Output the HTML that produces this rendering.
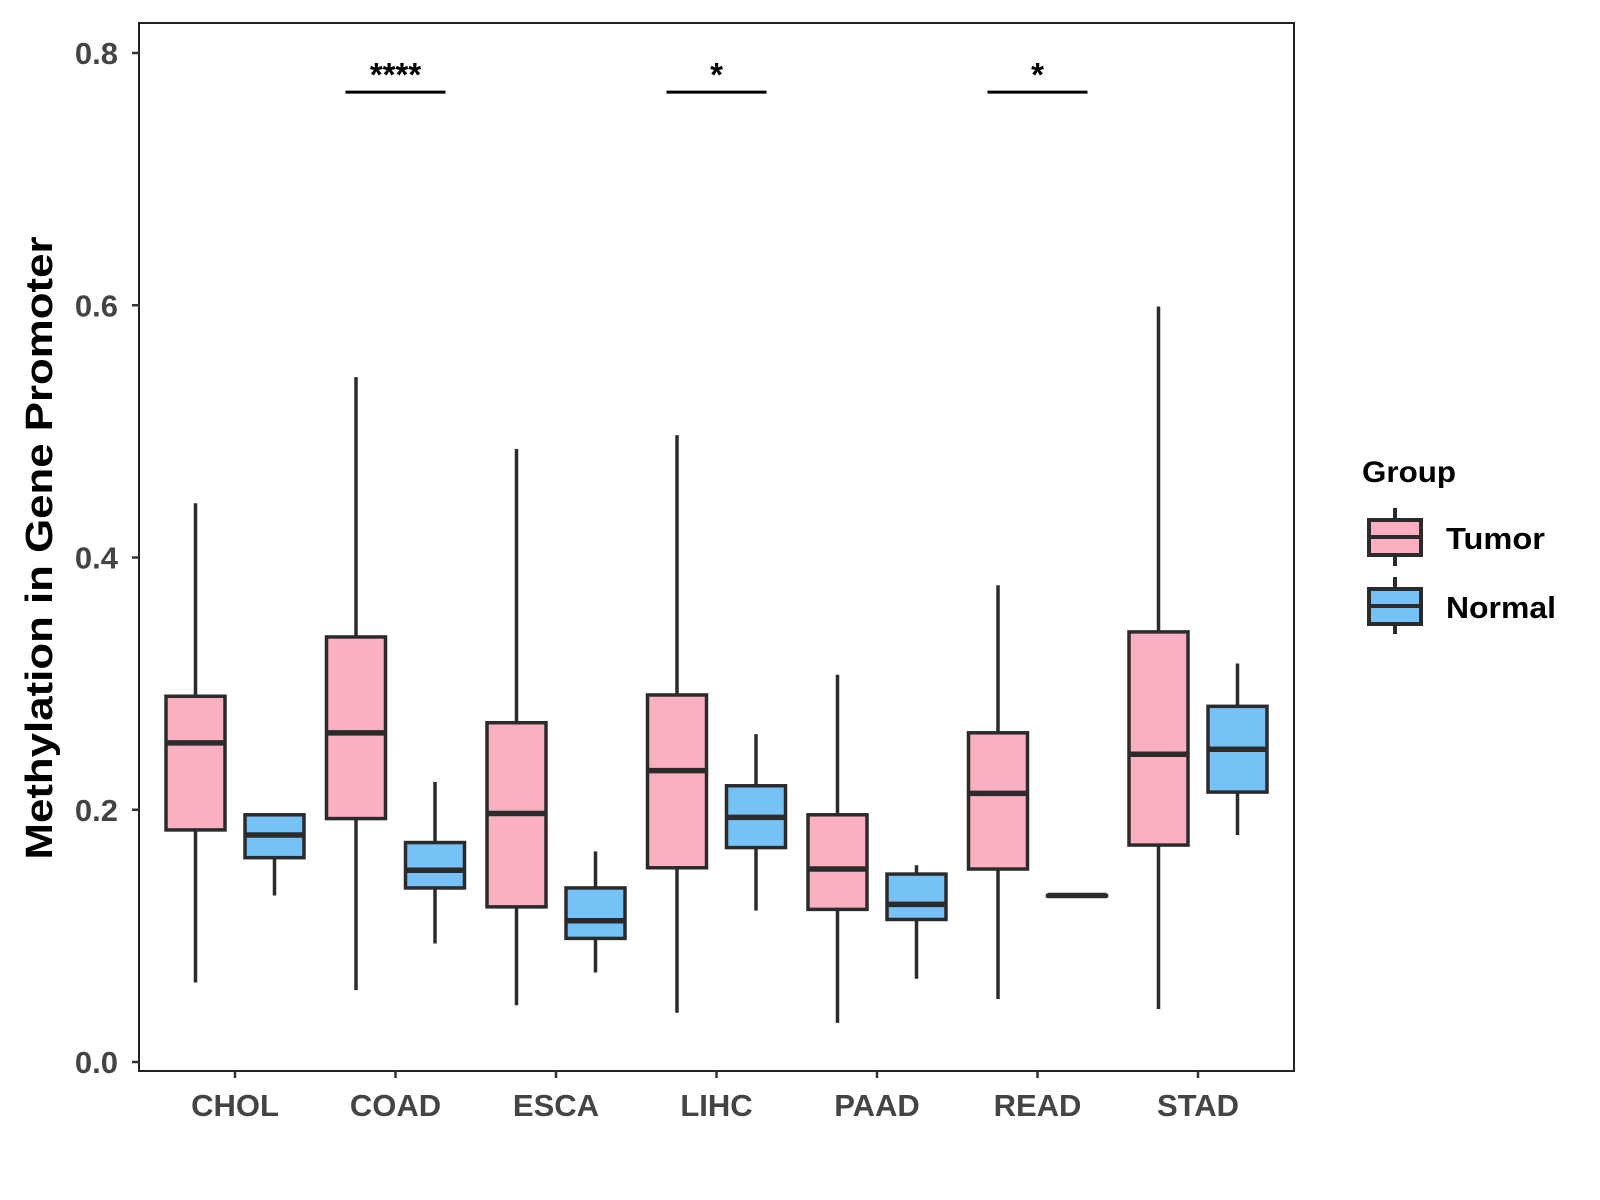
<!DOCTYPE html>
<html><head><meta charset="utf-8"><style>
body{margin:0;background:#fff;}
svg{display:block;font-family:"Liberation Sans",Arial,sans-serif;}
</style></head><body>
<svg id="chart" width="1600" height="1200">
<rect x="139" y="23" width="1155" height="1048" fill="none" stroke="#222" stroke-width="2"/>
<text transform="translate(52,548) rotate(-90)" text-anchor="middle" font-size="38" font-weight="bold" fill="#000" textLength="623" lengthAdjust="spacingAndGlyphs">Methylation in Gene Promoter</text>
<g>
<text x="1362" y="482" font-size="30" font-weight="bold" fill="#000" textLength="94" lengthAdjust="spacingAndGlyphs">Group</text>
<g>
<line x1="1395" x2="1395" y1="508" y2="566" stroke="#2b2b2b" stroke-width="4"/>
<rect x="1369" y="520" width="52" height="35" fill="#FBB0C1" stroke="#2b2b2b" stroke-width="4"/>
<line x1="1369" x2="1421" y1="537" y2="537" stroke="#2b2b2b" stroke-width="4"/>
<text x="1446" y="549" font-size="31" font-weight="bold" fill="#000" textLength="99" lengthAdjust="spacingAndGlyphs">Tumor</text></g>
<g>
<line x1="1395" x2="1395" y1="577" y2="634" stroke="#2b2b2b" stroke-width="4"/>
<rect x="1369" y="589" width="52" height="35" fill="#76C1F6" stroke="#2b2b2b" stroke-width="4"/>
<line x1="1369" x2="1421" y1="606" y2="606" stroke="#2b2b2b" stroke-width="4"/>
<text x="1446" y="618" font-size="31" font-weight="bold" fill="#000" textLength="110" lengthAdjust="spacingAndGlyphs">Normal</text></g>
</g>
<g id="marks"></g>
</svg>
<script>
const categories=["CHOL","COAD","ESCA","LIHC","PAAD","READ","STAD"];
// [lowWhisker, q1, median, q3, highWhisker]
const tumorStats=[[0.063,0.184,0.253,0.290,0.443],[0.057,0.193,0.261,0.337,0.543],[0.045,0.123,0.197,0.269,0.486],[0.039,0.154,0.231,0.291,0.497],[0.031,0.121,0.153,0.196,0.307],[0.050,0.153,0.213,0.261,0.378],[0.042,0.172,0.244,0.341,0.599]];
const normalStats=[[0.132,0.162,0.180,0.196,0.196],[0.094,0.138,0.152,0.174,0.222],[0.071,0.098,0.112,0.138,0.167],[0.120,0.170,0.194,0.219,0.260],[0.066,0.113,0.125,0.149,0.156],[0.132,0.132,0.132,0.132,0.132],[0.180,0.214,0.248,0.282,0.316]];
const yTicks=[0,0.2,0.4,0.6,0.8];
const yTickLabels=["0.0","0.2","0.4","0.6","0.8"];
const sigCategories=["COAD","LIHC","READ"];
const sigLabels=["****","*","*"];
const sigY=0.769;

const NS="http://www.w3.org/2000/svg";
const g=document.getElementById('marks');
const y=v=>1062-v*(1009/0.8);
const x=i=>235+i*160.5;
function el(tag,attrs,parent){const e=document.createElementNS(NS,tag);for(const k in attrs)e.setAttribute(k,attrs[k]);(parent||g).appendChild(e);return e;}

yTicks.forEach((t,i)=>{
  const tk=el('line',{x1:132,x2:139,y1:y(t),y2:y(t),stroke:'#333','stroke-width':2.5});
  
  
  const lb=el('text',{x:118,y:y(t)+11,'text-anchor':'end','font-size':31,'font-weight':'bold',fill:'#444'});
  lb.textContent=yTickLabels[i];
  
  
});
categories.forEach((c,i)=>{
  const tk=el('line',{x1:x(i),x2:x(i),y1:1071,y2:1078,stroke:'#333','stroke-width':2.5});
  
  
  const lb=el('text',{x:x(i),y:1116,'text-anchor':'middle','font-size':31,'font-weight':'bold',fill:'#444'});
  lb.textContent=c;
  
  
});
function box(cx,s,fill,name){
  const b=el('g',{});
  
  
  const w=29.5;
  el('line',{x1:cx,x2:cx,y1:y(s[0]),y2:y(s[4]),stroke:'#2b2b2b','stroke-width':3.5},b);
  el('rect',{x:cx-w,y:y(s[3]),width:2*w,height:Math.max(0.5,y(s[1])-y(s[3])),fill:fill,stroke:'#2b2b2b','stroke-width':3.5},b);
  el('line',{x1:cx-w,x2:cx+w,y1:y(s[2]),y2:y(s[2]),stroke:'#2b2b2b','stroke-width':5.5},b);
}
categories.forEach((c,i)=>{
  box(x(i)-39.5,tumorStats[i],'#FBB0C1','box-tumor-'+c.toLowerCase());
  box(x(i)+39.5,normalStats[i],'#76C1F6','box-normal-'+c.toLowerCase());
});
sigCategories.forEach((c,j)=>{
  const i=categories.indexOf(c);
  const ln=el('line',{x1:x(i)-50,x2:x(i)+50,y1:y(sigY),y2:y(sigY),stroke:'#000','stroke-width':3});
  
  
  const t=el('text',{x:x(i),y:y(sigY)-6,'text-anchor':'middle','font-size':33,'font-weight':'bold',fill:'#000'});
  t.textContent=sigLabels[j];
  
  
});
</script>
</body></html>
